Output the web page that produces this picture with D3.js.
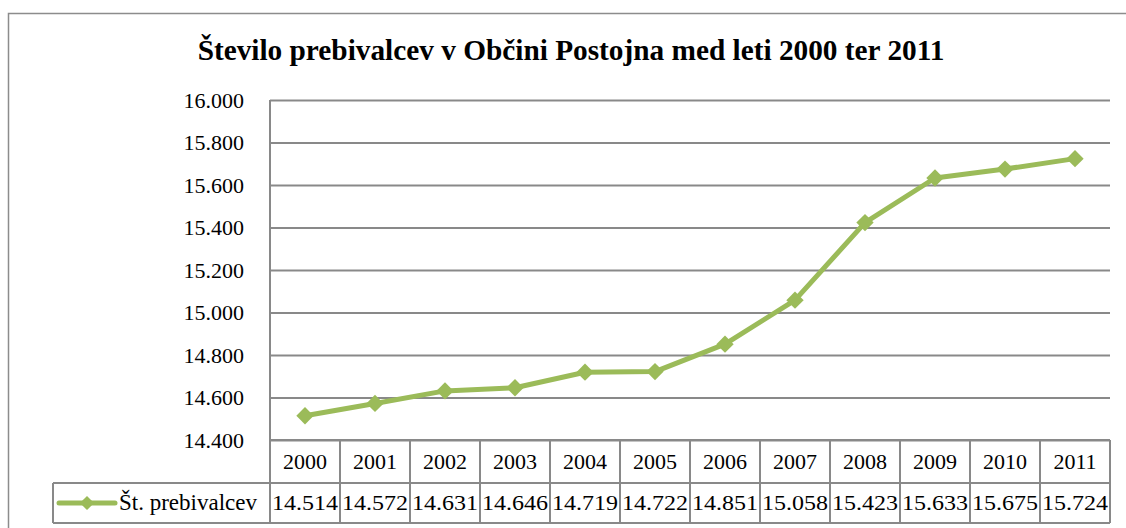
<!DOCTYPE html>
<html><head><meta charset="utf-8">
<script src="https://cdn.jsdelivr.net/npm/d3@7"></script>
<style>body{margin:0;background:#fff}svg{display:block}
svg text{font-family:"Times New Roman",Times,"Liberation Serif","Nimbus Roman","Nimbus Roman No9 L",FreeSerif,"Noto Serif","DejaVu Serif",Georgia,serif;}</style>
</head><body>
<svg id="c" width="1126" height="528"></svg>
<script>
const years = ["2000","2001","2002","2003","2004","2005","2006","2007","2008","2009","2010","2011"];
const values = [14514,14572,14631,14646,14719,14722,14851,15058,15423,15633,15675,15724];
const yTicks = [14400,14600,14800,15000,15200,15400,15600,15800,16000];
const seriesName = "Št. prebivalcev";
const title = "Število prebivalcev v Občini Postojna med leti 2000 ter 2011";

const svg = d3.select("#c");
const green = "#9BBB59", grid = "#898989";
const L = 270, R = 1110, T = 100, B = 440, row1 = 483, row2 = 523, legL = 53;

const fmt = v => d3.format(",.0f")(v).replace(/,/g, ".");
const x = d3.scaleBand().domain(years).range([L, R]);
const y = d3.scaleLinear().domain([14400, 16000]).range([B, T]);

// outer border
svg.append("rect").attr("x", 8.5).attr("y", 13.5).attr("width", 1140).attr("height", 540)
  .attr("fill", "none").attr("stroke", "#8c8c8c").attr("stroke-width", 1.5);

// title
const tt = svg.append("text").attr("x", 571).attr("y", 60).attr("text-anchor", "middle")
  .attr("font-weight", "bold").attr("font-size", 27)
  .attr("fill", "#000").text(title);
const tw = tt.node().getComputedTextLength();
tt.attr("font-size", 27 * 747 / tw);

// y axis gridlines + labels
const yAxis = d3.axisLeft(y).tickValues(yTicks).tickSize(-(R - L)).tickFormat(fmt).tickPadding(26);
const ga = svg.append("g").attr("transform", `translate(${L},0)`).call(yAxis);
ga.select(".domain").remove();
ga.selectAll(".tick line").attr("stroke", grid).attr("stroke-width", 2);
ga.selectAll(".tick text").attr("font-size", 22).attr("fill", "#000");

// left axis line
svg.append("line").attr("x1", L).attr("x2", L).attr("y1", T).attr("y2", row2)
  .attr("stroke", grid).attr("stroke-width", 2);

// table lines
const tbl = svg.append("g").attr("stroke", grid).attr("stroke-width", 2);
tbl.append("line").attr("x1", L).attr("x2", R).attr("y1", B).attr("y2", B);
tbl.append("line").attr("x1", legL).attr("x2", R).attr("y1", row1).attr("y2", row1);
tbl.append("line").attr("x1", legL).attr("x2", R).attr("y1", row2).attr("y2", row2);
tbl.append("line").attr("x1", legL).attr("x2", legL).attr("y1", row1).attr("y2", row2);
tbl.selectAll("line.col").data(years).enter().append("line")
  .attr("x1", d => x(d) + x.bandwidth()).attr("x2", d => x(d) + x.bandwidth())
  .attr("y1", B).attr("y2", row2);

// table text
svg.append("g").selectAll("text").data(years).enter().append("text")
  .attr("x", d => x(d) + x.bandwidth() / 2).attr("y", 469).attr("text-anchor", "middle")
  .attr("font-size", 22).text(d => d);
svg.append("g").selectAll("text").data(values).enter().append("text")
  .attr("x", (d, i) => x(years[i]) + x.bandwidth() / 2).attr("y", 510).attr("text-anchor", "middle")
  .attr("font-size", 22).attr("textLength", 66).attr("lengthAdjust", "spacingAndGlyphs")
  .text(d => fmt(d));

// legend
svg.append("line").attr("x1", 59).attr("x2", 115).attr("y1", 503).attr("y2", 503)
  .attr("stroke", green).attr("stroke-width", 5).attr("stroke-linecap", "round");
svg.append("path").attr("d", d3.symbol().type(d3.symbolSquare).size(100)())
  .attr("transform", "translate(87,503) rotate(45)").attr("fill", green);
svg.append("text").attr("x", 119).attr("y", 510).attr("font-size", 23)
  .text(seriesName);

// line
const data = years.map((yr, i) => ({yr, v: values[i]}));
const line = d3.line().x(d => x(d.yr) + x.bandwidth() / 2).y(d => y(d.v));
svg.append("path").datum(data).attr("d", line).attr("fill", "none")
  .attr("stroke", green).attr("stroke-width", 5).attr("stroke-linejoin", "round");
svg.append("g").selectAll("path").data(data).enter().append("path")
  .attr("d", d3.symbol().type(d3.symbolSquare).size(150)())
  .attr("transform", d => `translate(${x(d.yr) + x.bandwidth() / 2},${y(d.v)}) rotate(45)`)
  .attr("fill", green);
</script>
</body></html>
